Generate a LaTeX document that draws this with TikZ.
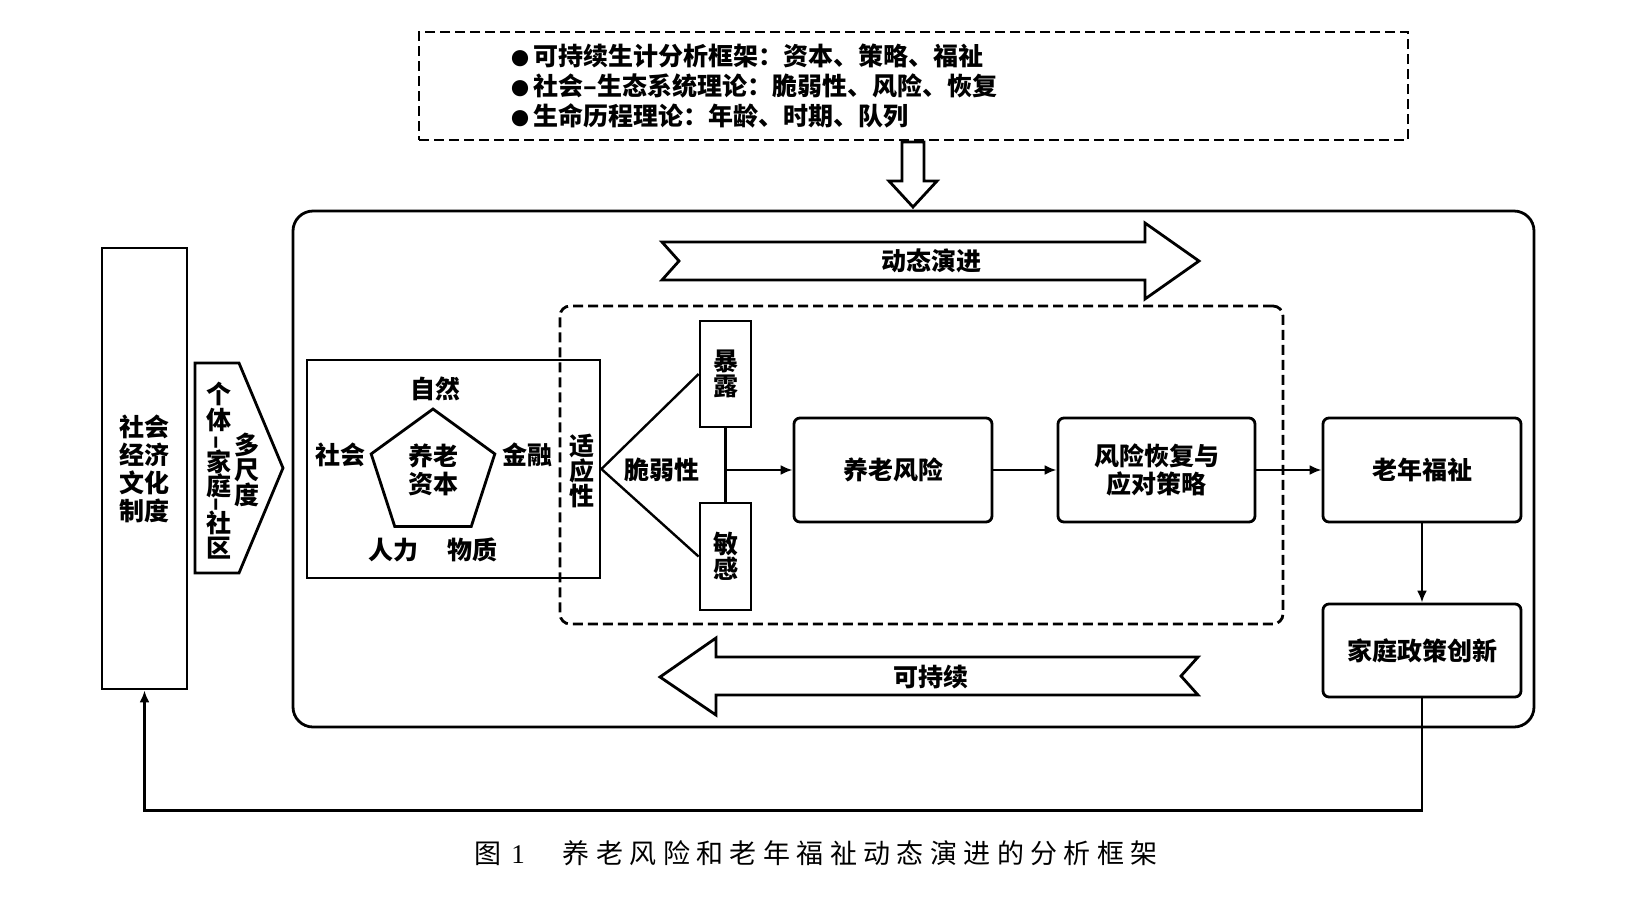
\documentclass[tikz,border=0pt]{standalone}
\usepackage{fontspec}
\setmainfont{Noto Sans CJK SC}
\newfontfamily\latinserif{Liberation Serif}
\usetikzlibrary{arrows.meta,shapes.geometric}
\begin{document}
\begin{tikzpicture}[x=0.5pt,y=-0.5pt,
  txt/.style={font=\bfseries\fontsize{12.5}{12.5}\selectfont, inner sep=0pt, align=center},
  boxA/.style={draw, line width=1.4pt, inner sep=0pt, align=center, font=\bfseries\fontsize{12.5}{14}\selectfont},
  rbox/.style={boxA, rounded corners=3pt},
  dbox/.style={draw, line width=1.4pt, dash pattern=on 5pt off 2.5pt},
  conn/.style={line width=1.2pt},
  arr/.style={line width=1.2pt, -{Latex[length=6pt,width=5pt]}},
  hollow/.style={draw, line width=1.4pt, fill=white, line join=miter},
  toptxt/.style={anchor=west, inner sep=0pt, font=\bfseries\fontsize{12.5}{12.5}\selectfont}
]
\useasboundingbox (0,0) rectangle (1651,896);

% top theory box
\node[dbox, minimum width=494.5pt, minimum height=54pt] (topbox) at (913.5,86) {};
\node[toptxt] (t1) at (511,56) {{\fontsize{9}{9}\selectfont ●}\,可持续生计分析框架：资本、策略、福祉};
\node[toptxt] (t2) at (511,86) {{\fontsize{9}{9}\selectfont ●}\,社会–生态系统理论：脆弱性、风险、恢复};
\node[toptxt] (t3) at (511,116) {{\fontsize{9}{9}\selectfont ●}\,生命历程理论：年龄、时期、队列};

% hollow down arrow
\draw[hollow] (902,142) -- (924,142) -- (924,181) -- (937,181) -- (913,207) -- (889,181) -- (902,181) -- cycle;

% main rounded box
\node[draw, line width=1.4pt, rounded corners=10pt, minimum width=620.5pt, minimum height=258pt] (mainbox) at (913.5,469) {};

% inner dashed box
\node[dbox, rounded corners=5pt, minimum width=361.5pt, minimum height=159pt] (inner) at (921.5,465) {};

% tall left box
\node[boxA, minimum width=42.5pt, minimum height=220.5pt] (tall) at (144.5,468.5) {社会\\经济\\文化\\制度};

% multi-scale shape
\draw[line width=1.4pt, line join=miter] (195,363) -- (239,363) -- (283,468) -- (239,573) -- (195,573) -- cycle;
\foreach \c/\yy [count=\i] in {个/394,体/420,家/462,庭/486,社/523,区/548}
  \node[txt] (ms\i) at (219,\yy) {\c};
\node[txt, rotate=90] (msd1) at (219,443) {–};
\node[txt, rotate=90] (msd2) at (219,505) {–};
\node[txt] (duochidu) at (247,470) {多\\尺\\度};

% capital box
\node[boxA, minimum width=146.5pt, minimum height=109pt] (capbox) at (453.5,469) {};
\node[draw, line width=1.4pt, regular polygon, regular polygon sides=5, minimum size=65pt, inner sep=0pt] (penta) at (433,474) {};
\node[txt, font=\bfseries\fontsize{12.5}{14}\selectfont] (pentext) at (433,469.5) {养老\\资本};
\node[txt] (ziran) at (435,389) {自然};
\node[txt] (shehui) at (340,455) {社会};
\node[txt] (jinrong) at (527,455) {金融};
\node[txt] (renli) at (393,550) {人力};
\node[txt] (wuzhi) at (472,550) {物质};
\node[txt] (shiying) at (582,471) {适\\应\\性};

% vulnerability
\node[boxA, minimum width=25.5pt, minimum height=53pt, font=\bfseries\fontsize{12.5}{12.5}\selectfont] (baolu) at (725.5,374) {暴\\露};
\node[boxA, minimum width=25.5pt, minimum height=53.5pt, font=\bfseries\fontsize{12.5}{12.5}\selectfont] (mingan) at (725.5,556.5) {敏\\感};
\draw[conn] (capbox.east) -- (baolu.west);
\draw[conn] (capbox.east) -- (mingan.west);
\draw[conn] (baolu.south) -- (mingan.north);
\node[txt] (cuiruo) at (662,470) {脆弱性};

% process boxes
\node[rbox, minimum width=99pt, minimum height=52pt] (risk) at (893,470) {养老风险};
\node[rbox, minimum width=98.5pt, minimum height=52pt] (recov) at (1156.5,470) {风险恢复与\\应对策略};
\node[rbox, minimum width=99pt, minimum height=52pt] (welfare) at (1422,470) {老年福祉};
\node[rbox, minimum width=99pt, minimum height=46.5pt] (policy) at (1422,650.5) {家庭政策创新};

\draw[arr] (baolu.south |- risk.west) -- (risk.west);
\draw[arr] (risk) -- (recov);
\draw[arr] (recov) -- (welfare);
\draw[arr] (welfare) -- (policy);
\draw[arr] (policy.south) -- ++(0,112) -| (tall.south);

% dynamic evolution arrow
\draw[hollow] (662,242) -- (1145,242) -- (1145,223) -- (1199,261) -- (1145,299) -- (1145,280) -- (662,280) -- (679,261) -- cycle;
\node[txt] (dongtai) at (931,261) {动态演进};

% sustainability arrow
\draw[hollow] (1198,657) -- (716,657) -- (716,638) -- (660,677) -- (716,715) -- (716,695) -- (1198,695) -- (1181,676) -- cycle;
\node[txt] (kechixu) at (931,677) {可持续};

% caption
\def\cs{\hspace{3.2pt}}
\node[anchor=west, inner sep=0pt, font=\fontsize{13.5}{13.5}\selectfont] (caption) at (474,853)
  {图\hspace{5pt}{\latinserif 1}\hspace{19pt}养\cs 老\cs 风\cs 险\cs 和\cs 老\cs 年\cs 福\cs 祉\cs 动\cs 态\cs 演\cs 进\cs 的\cs 分\cs 析\cs 框\cs 架};
\end{tikzpicture}
\end{document}
